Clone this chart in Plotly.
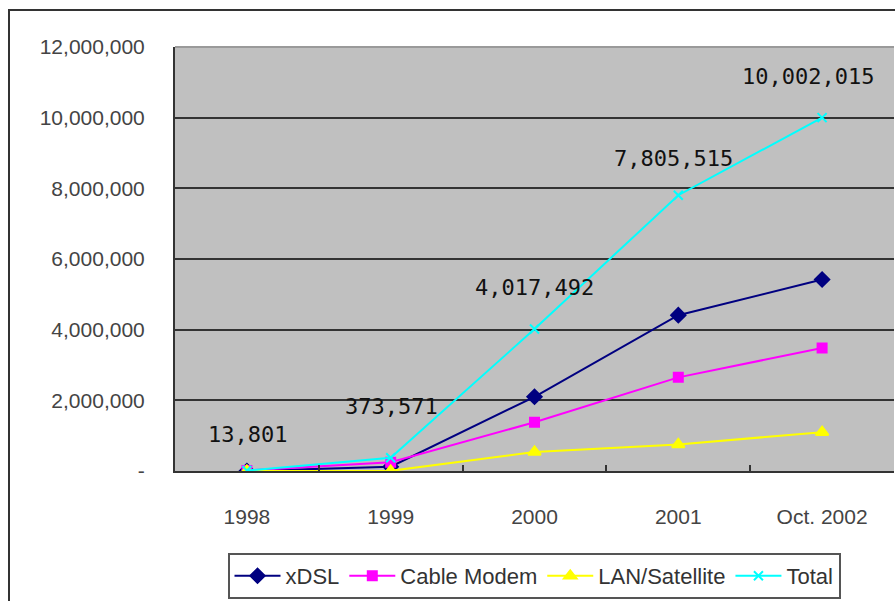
import plotly.graph_objects as go

categories = ["1998", "1999", "2000", "2001", "Oct. 2002"]
xdsl = [0, 120000, 2100000, 4410000, 5420000]
cable = [13801, 250000, 1380000, 2650000, 3480000]
lan = [0, 4000, 540000, 750000, 1100000]
total = [13801, 373571, 4017492, 7805515, 10002015]
total_labels = ["13,801", "373,571", "4,017,492", "7,805,515", "10,002,015"]
y_tickvals = [0, 2000000, 4000000, 6000000, 8000000, 10000000, 12000000]
y_ticktext = ["-", "2,000,000", "4,000,000", "6,000,000", "8,000,000", "10,000,000", "12,000,000"]

# label offsets (px) for total data labels
label_xshift = [1, 1, 0, -5, -14]
label_yshift = [36, 51, 42, 37, 41]

W, H = 895, 601
ML, MR, MT, MB = 175, 1, 47, 130

fig = go.Figure()
series = [
    ("xDSL", xdsl, "#000080", "diamond", 11),
    ("Cable Modem", cable, "#ff00ff", "square", 9),
    ("LAN/Satellite", lan, "#ffff00", "triangle-up", 11),
    ("Total", total, "#00ffff", "x-thin", 9),
]
for name, vals, col, sym, sz in series:
    fig.add_trace(go.Scatter(
        x=categories, y=vals, name=name, mode="lines+markers",
        line=dict(color=col, width=2),
        marker=dict(symbol=sym, size=sz, color=col, line=dict(color=col, width=2)),
    ))

for i, (v, t) in enumerate(zip(total, total_labels)):
    fig.add_annotation(x=i, y=v, text=t, showarrow=False,
                       xshift=label_xshift[i], yshift=label_yshift[i],
                       font=dict(family="DejaVu Sans Mono", size=22, color="#111111"))

pw = W - ML - MR
ph = H - MT - MB
# outer chart border
fig.add_shape(type="rect", xref="paper", yref="paper",
              x0=(9 - ML) / pw, x1=(W + 20 - ML) / pw,
              y0=-(H + 20 - MT - ph) / ph, y1=(ph + MT - 10) / ph,
              line=dict(color="#333333", width=2), layer="below")
# light top edge of plot area
fig.add_shape(type="line", xref="paper", yref="paper", x0=0, x1=1, y0=1, y1=1,
              line=dict(color="#9a9a9a", width=2), layer="above")

fig.update_layout(
    width=W, height=H,
    margin=dict(l=ML, r=MR, t=MT, b=MB),
    paper_bgcolor="white", plot_bgcolor="#c0c0c0",
    font=dict(family="Liberation Sans", size=20, color="#444444"),
    showlegend=True,
    legend=dict(orientation="h", x=(534 - ML) / pw, xanchor="center",
                y=-(553 - MT - ph) / ph, yanchor="top",
                bordercolor="#555555", borderwidth=2, bgcolor="white",
                font=dict(family="Liberation Sans", size=22, color="#333333"),
                itemwidth=46, tracegroupgap=0),
    xaxis=dict(type="category", range=[-0.5, 4.5], showgrid=False,
               showline=True, linecolor="#333333", linewidth=2,
               ticks="inside", tickson="boundaries", ticklen=6, tickcolor="#333333",
               tickwidth=2, ticklabelstandoff=26,
               tickfont=dict(family="Liberation Sans", size=21, color="#444444")),
    yaxis=dict(range=[0, 12000000], tickvals=y_tickvals, ticktext=y_ticktext,
               showgrid=True, gridcolor="#333333", gridwidth=2,
               zeroline=False, showline=True, linecolor="#333333", linewidth=2,
               ticks="", ticklabelstandoff=24,
               tickfont=dict(family="Liberation Sans", size=21, color="#444444")),
)

fig.write_html("out.html")
